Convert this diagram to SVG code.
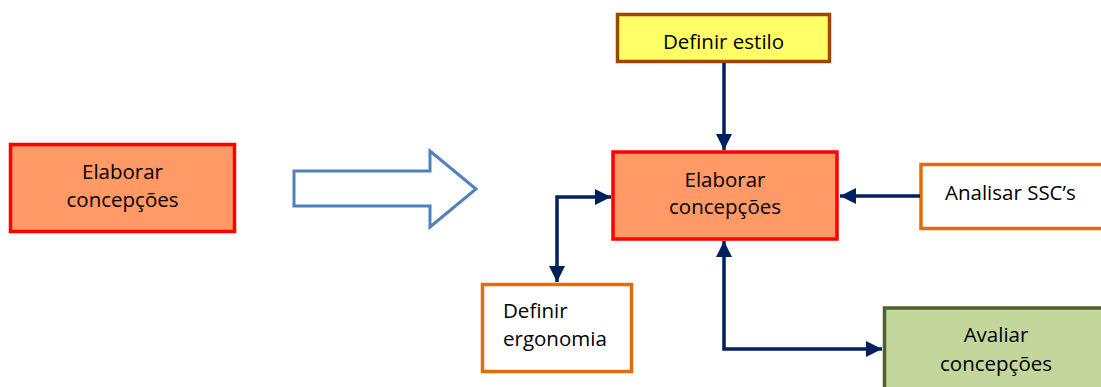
<svg xmlns="http://www.w3.org/2000/svg" width="1101" height="387" viewBox="0 0 1101 387">
<style>
  .t{font-family:"Open Sans","Liberation Sans",sans-serif;font-size:20.5px;fill:#000}
  .c{text-anchor:middle}
  .red{fill:#FF9966;stroke:#FF0000;stroke-width:3.5}
  .org{fill:#FFFFFF;stroke:#E36C09;stroke-width:3.5}
  .conn{fill:none;stroke:#002060;stroke-width:3.5}
</style>
<defs>
  <marker id="ah" markerUnits="userSpaceOnUse" markerWidth="17" markerHeight="16" refX="16" refY="8" orient="auto-start-reverse" viewBox="0 0 17 16">
    <path d="M0,0 L16,8 L0,16 z" fill="#002060"/>
  </marker>
</defs>
<rect width="1101" height="387" fill="#FFFFFF"/>
<g id="left-elaborar">
  <rect class="red" x="10.5" y="144.5" width="224" height="87"/>
  <text class="t c" x="122.5" y="179">Elaborar</text>
  <text class="t c" x="122.5" y="207">concepções</text>
</g>
<g id="big-arrow">
  <polygon points="294,171 430,171 430,151 476,189 430,227 430,206 294,206" fill="#FFFFFF" stroke="#4F81BD" stroke-width="3"/>
</g>
<g id="definir-estilo">
  <rect x="617.5" y="14.5" width="212" height="47" fill="#FFFF66" stroke="#984807" stroke-width="3.5"/>
  <text class="t c" x="723.5" y="49">Definir estilo</text>
</g>
<g id="center-elaborar">
  <rect class="red" x="613" y="152" width="224" height="87"/>
  <text class="t c" x="725" y="187">Elaborar</text>
  <text class="t c" x="725" y="214">concepções</text>
</g>
<g id="analisar">
  <rect class="org" x="921" y="164.5" width="200" height="64"/>
  <text class="t" x="945" y="200">Analisar SSC’s</text>
</g>
<g id="definir-ergonomia">
  <rect class="org" x="482.5" y="284.5" width="149" height="87"/>
  <text class="t" x="503" y="318">Definir</text>
  <text class="t" x="503" y="346">ergonomia</text>
</g>
<g id="avaliar">
  <rect x="884.5" y="308" width="224" height="88" fill="#C3D69B" stroke="#4F6228" stroke-width="3.5"/>
  <text class="t c" x="996" y="342">Avaliar</text>
  <text class="t c" x="996" y="371">concepções</text>
</g>
<g id="connectors">
  <path class="conn" d="M724,63 L724,150" marker-end="url(#ah)"/>
  <path class="conn" d="M920,196 L840,196" marker-end="url(#ah)"/>
  <path class="conn" d="M611,197 L557,197 L557,282" marker-start="url(#ah)" marker-end="url(#ah)"/>
  <path class="conn" d="M724,241 L724,349 L882,349" marker-start="url(#ah)" marker-end="url(#ah)"/>
</g>
</svg>
